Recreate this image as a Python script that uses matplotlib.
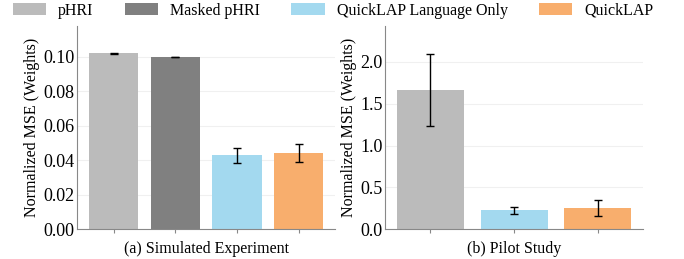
import matplotlib.pyplot as plt
from matplotlib.patches import Patch

plt.rcParams['font.family'] = ['Liberation Serif', 'DejaVu Serif']
plt.rcParams['font.size'] = 11.5

methods = ['pHRI', 'Masked pHRI', 'QuickLAP Language Only', 'QuickLAP']
colors = ['#bbbbbb', '#808080', '#a3d9ef', '#f8ae6d']

sim_means = [0.1020, 0.1000, 0.0428, 0.0445]
sim_errs = [0.0002, 0.0002, 0.0044, 0.0052]

pilot_methods = ['pHRI', 'QuickLAP Language Only', 'QuickLAP']
pilot_means = [1.665, 0.225, 0.258]
pilot_errs = [0.43, 0.045, 0.095]

fig, (ax1, ax2) = plt.subplots(1, 2, figsize=(6.84, 2.59), dpi=100)
fig.subplots_adjust(left=0.113, right=0.94, bottom=0.115, top=0.9, wspace=0.195)

col_map = dict(zip(methods, colors))

ax1.bar(range(len(methods)), sim_means, width=0.8,
        color=[col_map[m] for m in methods], zorder=2)
ax1.errorbar(range(len(methods)), sim_means, yerr=sim_errs, fmt='none',
             ecolor='black', elinewidth=1.0, capsize=3, zorder=3)
ax1.set_ylim(0, 0.118)
ax1.set_yticks([0.00, 0.02, 0.04, 0.06, 0.08, 0.10])
ax1.set_xlabel('(a) Simulated Experiment')

ax2.bar(range(len(pilot_methods)), pilot_means, width=0.8,
        color=[col_map[m] for m in pilot_methods], zorder=2)
ax2.errorbar(range(len(pilot_methods)), pilot_means, yerr=pilot_errs, fmt='none',
             ecolor='black', elinewidth=1.0, capsize=3, zorder=3)
ax2.set_ylim(0, 2.43)
ax2.set_yticks([0.0, 0.5, 1.0, 1.5, 2.0])
ax2.set_xlabel('(b) Pilot Study')

for ax in (ax1, ax2):
    ax.set_ylabel('Normalized MSE (Weights)')
    ax.yaxis.grid(True, color='#f0f0f0', linewidth=0.8, zorder=0)
    ax.set_axisbelow(True)
    for s in ('top', 'right'):
        ax.spines[s].set_visible(False)
    for s in ('left', 'bottom'):
        ax.spines[s].set_color('#888888')
    ax.tick_params(axis='y', length=0, pad=2, labelsize=13)
    ax.tick_params(axis='x', length=3, color='#888888')
    ax.xaxis.labelpad = 2
    ax.yaxis.labelpad = 2

ax1.set_xticks(range(len(methods)))
ax1.set_xticklabels([])
ax2.set_xticks(range(len(pilot_methods)))
ax2.set_xticklabels([])

handles = [Patch(facecolor=c, label=m) for m, c in zip(methods, colors)]
fig.legend(handles=handles, loc='upper center', ncol=4, frameon=False,
           bbox_to_anchor=(0.487, 1.045), handlelength=2.1, handleheight=0.8,
           handletextpad=0.75, columnspacing=1.95)

plt.savefig('out.png', dpi=100)
